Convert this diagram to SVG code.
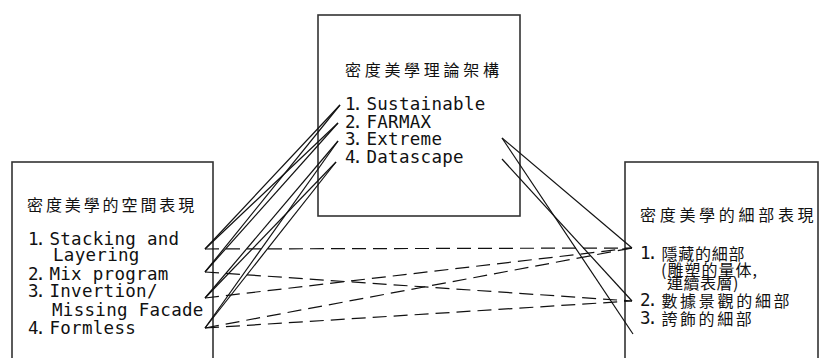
<svg xmlns="http://www.w3.org/2000/svg" width="819" height="358" viewBox="0 0 819 358">
<style>
.box{fill:#fff;stroke:#333;stroke-width:1.6}
.m{font-family:"DejaVu Sans Mono","Liberation Mono",monospace;font-size:17.5px;letter-spacing:0.3px;fill:#111}
.n{letter-spacing:-3.4px}
.c{font-family:"Noto Sans CJK TC","Noto Sans CJK SC",sans-serif;font-size:16px;fill:#111}
.ln{stroke:#111;stroke-width:1.2;fill:none}
.dl{stroke:#111;stroke-width:1.2;fill:none;stroke-dasharray:14 7}
</style>
<rect width="819" height="358" fill="#fff"/>
<g id="theory">
<rect class="box" x="318" y="15" width="202" height="201"/>
<text class="c" x="345" y="76" letter-spacing="3.7">密度美學理論架構</text>
<text class="m" x="345" y="110"><tspan class="n">1. </tspan>Sustainable</text>
<text class="m" x="345" y="128"><tspan class="n">2. </tspan>FARMAX</text>
<text class="m" x="345" y="145"><tspan class="n">3. </tspan>Extreme</text>
<text class="m" x="345" y="163"><tspan class="n">4. </tspan>Datascape</text>
</g>
<g id="space">
<rect class="box" x="12" y="162" width="201" height="210"/>
<text class="c" x="27" y="211" letter-spacing="2.9">密度美學的空間表現</text>
<text class="m" x="28" y="245"><tspan class="n">1. </tspan>Stacking and</text>
<text class="m" x="53" y="261">Layering</text>
<text class="m" x="28" y="280"><tspan class="n">2. </tspan>Mix program</text>
<text class="m" x="28" y="297"><tspan class="n">3. </tspan>Invertion/</text>
<text class="m" x="52" y="316">Missing Facade</text>
<text class="m" x="28" y="334"><tspan class="n">4. </tspan>Formless</text>
</g>
<g id="detail">
<rect class="box" x="625" y="162" width="193" height="210"/>
<text class="c" x="640" y="221" letter-spacing="3.7">密度美學的細部表現</text>
<text class="m" x="640" y="259"><tspan class="n">1. </tspan><tspan class="c" font-size="14.5" letter-spacing="0.8" y="260">隱藏的細部</tspan></text>
<text class="c" x="661" y="275.5" font-size="12.5" letter-spacing="1">(雕塑的量体,</text>
<text class="c" x="667" y="289" font-size="12.5" letter-spacing="0.5">連續表層)</text>
<text class="m" x="640" y="306"><tspan class="n">2. </tspan><tspan class="c" letter-spacing="2.7" y="307">數據景觀的細部</tspan></text>
<text class="m" x="640" y="324"><tspan class="n">3. </tspan><tspan class="c" letter-spacing="2.6" y="325">誇飾的細部</tspan></text>
</g>
<g id="connectors">
<line class="ln" x1="205" y1="249" x2="340" y2="105"/>
<line class="ln" x1="205" y1="249" x2="338" y2="123"/>
<line class="ln" x1="205" y1="272" x2="340" y2="105"/>
<line class="ln" x1="205" y1="272" x2="338" y2="123"/>
<line class="ln" x1="205" y1="298" x2="338" y2="141"/>
<line class="ln" x1="205" y1="298" x2="336" y2="162"/>
<line class="ln" x1="205" y1="328" x2="338" y2="141"/>
<line class="ln" x1="205" y1="328" x2="336" y2="162"/>
<line class="ln" x1="502" y1="138" x2="632" y2="248"/>
<line class="ln" x1="502" y1="138" x2="633" y2="334"/>
<line class="ln" x1="502" y1="159" x2="632" y2="301"/>
<line class="dl" x1="205" y1="249" x2="632" y2="248"/>
<line class="dl" x1="205" y1="272" x2="632" y2="301"/>
<line class="dl" x1="205" y1="298" x2="632" y2="248"/>
<line class="dl" x1="205" y1="328" x2="632" y2="248"/>
<line class="dl" x1="205" y1="328" x2="632" y2="301"/>
</g>
</svg>
